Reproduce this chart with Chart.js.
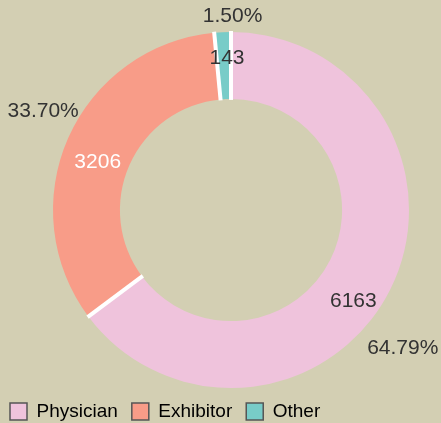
<!DOCTYPE html>
<html>
<head>
<meta charset="utf-8">
<script src="https://cdn.jsdelivr.net/npm/chart.js@4/dist/chart.umd.min.js"></script>
<style>
  html, body { margin: 0; padding: 0; background: #d3cfb3; }
  #wrap { width: 441px; height: 423px; position: relative; }
</style>
</head>
<body>
<div id="wrap"><canvas id="c" width="441" height="423"></canvas></div>
<script>
const categories = ['Physician', 'Exhibitor', 'Other'];
const counts = [6163, 3206, 143];
const sliceColors = ['#efc3dc', '#f89c88', '#78ccc8'];
const valueLabelColors = ['#333333', '#ffffff', '#333333'];

// label nudges (style only, px)
const valueNudge = [[-10, 25], [2, 12], [3, -4]];
const pctNudge = [[-7, 49], [-5, -17.5], [11, 6]];

const separators = {
  id: 'separators',
  afterDatasetsDraw(chart) {
    const meta = chart.getDatasetMeta(0);
    const ctx = chart.ctx;
    ctx.save();
    ctx.strokeStyle = '#ffffff';
    ctx.lineWidth = 4;
    meta.data.forEach(arc => {
      const p = arc.getProps(['x', 'y', 'startAngle', 'innerRadius', 'outerRadius'], true);
      const c = Math.cos(p.startAngle), s = Math.sin(p.startAngle);
      ctx.beginPath();
      ctx.moveTo(p.x + c * (p.innerRadius - 1), p.y + s * (p.innerRadius - 1));
      ctx.lineTo(p.x + c * (p.outerRadius + 1), p.y + s * (p.outerRadius + 1));
      ctx.stroke();
    });
    ctx.restore();
  }
};

const labels = {
  id: 'sliceLabels',
  afterDatasetsDraw(chart) {
    const meta = chart.getDatasetMeta(0);
    const ctx = chart.ctx;
    const total = counts.reduce((a, b) => a + b, 0);
    ctx.save();
    ctx.font = '21px "Liberation Sans", Arial, sans-serif';
    ctx.textAlign = 'center';
    ctx.textBaseline = 'middle';
    meta.data.forEach((arc, i) => {
      const p = arc.getProps(['x', 'y', 'startAngle', 'endAngle'], true);
      const mid = (p.startAngle + p.endAngle) / 2;
      const c = Math.cos(mid), s = Math.sin(mid);
      ctx.fillStyle = valueLabelColors[i];
      ctx.fillText(String(counts[i]), p.x + c * 148 + valueNudge[i][0], p.y + s * 148 + valueNudge[i][1]);
      ctx.fillStyle = '#333333';
      const pct = (counts[i] / total * 100).toFixed(2) + '%';
      ctx.fillText(pct, p.x + c * 200 + pctNudge[i][0], p.y + s * 200 + pctNudge[i][1]);
    });
    ctx.restore();
  }
};

const legendShift = {
  id: 'legendShift',
  afterLayout(chart) {
    const lg = chart.legend;
    if (lg) {
      const w = lg.width;
      lg.left = 10 - lg.options.labels.padding;
      lg.right = lg.left + w;
    }
  }
};

Chart.defaults.font.family = '"Liberation Sans", Arial, sans-serif';
Chart.defaults.color = '#333333';

new Chart(document.getElementById('c'), {
  type: 'doughnut',
  data: {
    labels: categories,
    datasets: [{
      data: counts,
      backgroundColor: sliceColors,
      borderWidth: 0
    }]
  },
  options: {
    responsive: false,
    animation: false,
    cutout: '62.4%',
    layout: { padding: { left: 53, right: 32, top: 32, bottom: -8 } },
    plugins: {
      tooltip: { enabled: false },
      legend: {
        position: 'bottom',
        align: 'start',
        labels: {
          font: { size: 19 },
          color: '#333333',
          boxWidth: 17,
          boxHeight: 17,
          padding: 14,
          generateLabels(chart) {
            return categories.map((t, i) => ({
              text: t,
              fillStyle: sliceColors[i],
              strokeStyle: '#555555',
              lineWidth: 1.5,
              hidden: false,
              index: i
            }));
          }
        }
      }
    }
  },
  plugins: [separators, labels, legendShift]
});
</script>
</body>
</html>
